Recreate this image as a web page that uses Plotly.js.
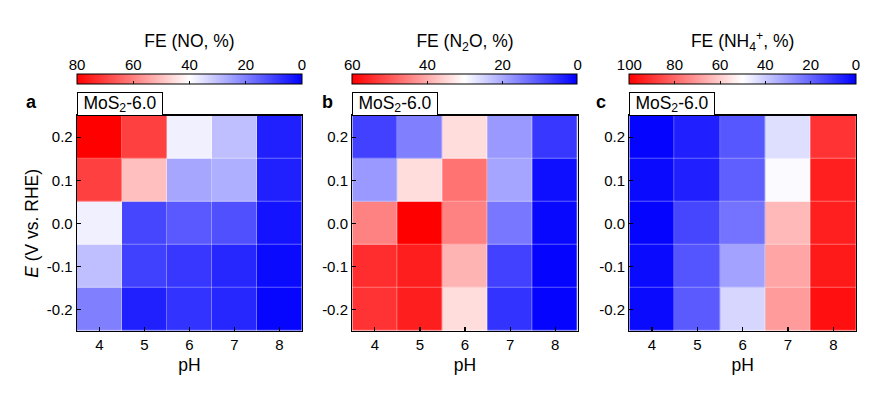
<!DOCTYPE html>
<html>
<head>
<meta charset="utf-8">
<script src="https://cdn.plot.ly/plotly-3.0.1.min.js"></script>
<style>html,body{margin:0;padding:0;background:#fff;}#chart{width:887px;height:397px;}</style>
</head>
<body>
<div id="chart"></div>
<script>
// ---- data ----
const pH = [4, 5, 6, 7, 8];
const potential = [0.2, 0.1, 0.0, -0.1, -0.2];
const potentialLabels = ['0.2', '0.1', '0.0', '-0.1', '-0.2'];

// rows follow `potential` (0.2 ... -0.2), columns follow `pH`
const feNO = [
  [80, 70, 37.6, 30, 5],
  [70, 50, 26, 27.5, 5],
  [37.6, 11, 14, 12.5, 3],
  [30, 10, 8.6, 6, 1.5],
  [20, 5, 8, 6, 1]
];
const feN2O = [
  [7.6, 15, 34, 18, 6.5],
  [18, 34, 46.5, 19.4, 1.8],
  [44.7, 60, 44.7, 14, 1],
  [54.7, 56.5, 38.8, 7.6, 0.6],
  [54, 56.5, 34, 6, 0.6]
];
const feNH4 = [
  [1, 6, 17, 43.5, 90],
  [2, 6, 18.6, 49, 94],
  [1, 13.7, 22.5, 63.7, 94],
  [2, 16.7, 32, 67.6, 95],
  [2, 17.6, 42, 69.6, 97]
];

const scaleMax = [80, 60, 100];
const scaleTicks = [[80, 60, 40, 20, 0], [60, 40, 20, 0], [100, 80, 60, 40, 20, 0]];
const cbTitles = ['FE (NO, %)', 'FE (N<sub>2</sub>O, %)', 'FE (NH<sub>4</sub><sup>+</sup>, %)'];
const panelLetters = ['a', 'b', 'c'];
const sampleLabel = 'MoS<sub>2</sub>-6.0';

// ---- layout geometry ----
const FONT = 'Liberation Sans, Arial, Helvetica, sans-serif';
const domains = [[0, 0.2888], [0.3534, 0.6428], [0.709, 1.0]];
const hmTop = 0.6923;
const cbDom = [0.7932, 0.8264];
const letterX = [-0.0590, 0.3218, 0.6727];

const bwr = [[0, 'rgb(255,0,0)'], [0.5, 'rgb(255,255,255)'], [1, 'rgb(0,0,255)']];
const datasets = [feNO, feN2O, feNH4];

const traces = [];
const layout = {
  width: 887, height: 397,
  margin: {l: 77, r: 31, t: 20, b: 66},
  paper_bgcolor: '#fff', plot_bgcolor: '#fff',
  font: {family: FONT, size: 15, color: '#000'},
  showlegend: false,
  annotations: []
};

datasets.forEach((data, i) => {
  const n = i === 0 ? '' : String(i + 1);
  const m = scaleMax[i];
  traces.push({
    type: 'heatmap',
    x: pH, y: potential,
    z: data.map(r => r.map(v => -v)),
    customdata: data,
    hovertemplate: 'pH %{x}<br>E %{y}<br>FE %{customdata}%<extra></extra>',
    zmin: -m, zmax: 0,
    colorscale: bwr,
    xgap: 0.35, ygap: 0.35,
    xaxis: 'x' + n, yaxis: 'y' + n,
    showscale: true,
    colorbar: {
      orientation: 'h',
      x: domains[i][0], xanchor: 'left', xref: 'paper',
      y: cbDom[1], yanchor: 'top', yref: 'paper',
      len: domains[i][1] - domains[i][0], lenmode: 'fraction',
      thickness: 10, thicknessmode: 'pixels',
      xpad: 0, ypad: 0,
      outlinewidth: 1, outlinecolor: '#000',
      tickmode: 'array',
      tickvals: scaleTicks[i].map(v => -v),
      ticktext: scaleTicks[i].map(String),
      ticks: 'inside', ticklen: 3, tickwidth: 1, tickcolor: '#000',
      showticklabels: false
    }
  });
  layout['xaxis' + n] = {
    domain: domains[i], anchor: 'y' + n,
    range: [3.5, 8.5], tickmode: 'array', tickvals: pH, ticktext: pH.map(String),
    ticks: 'inside', ticklen: 4, tickwidth: 1.2, tickcolor: '#000',
    showline: true, mirror: true, linecolor: '#000', linewidth: 1.3,
    showgrid: false, zeroline: false, fixedrange: true,
    tickfont: {size: 15},
    title: {text: 'pH', font: {size: 17.5}, standoff: 6}
  };
  const yax = {
    domain: [0, hmTop], anchor: 'x' + n,
    range: [-0.25, 0.25], tickmode: 'array', tickvals: potential, ticktext: potentialLabels,
    ticks: 'inside', ticklen: 4, tickwidth: 1.2, tickcolor: '#000',
    showline: true, mirror: true, linecolor: '#000', linewidth: 1.3,
    showgrid: false, zeroline: false, fixedrange: true,
    tickfont: {size: 15}
  };
  if (i === 0) yax.title = {text: '<i>E</i> (V vs. RHE)', font: {size: 17.5}, standoff: 3};
  layout['yaxis' + n] = yax;
  // axis carrying the colour-bar labels (above the bar)
  const k = String(i + 4);
  traces.push({type: 'scatter', x: [], y: [], xaxis: 'x' + k, yaxis: 'y' + k, hoverinfo: 'skip', showlegend: false});
  layout['xaxis' + k] = {
    domain: domains[i], anchor: 'y' + k, side: 'top',
    range: [m, 0], tickmode: 'array', tickvals: scaleTicks[i], ticktext: scaleTicks[i].map(String),
    ticks: '', showline: false, showgrid: false, zeroline: false, fixedrange: true,
    tickfont: {size: 15},
    title: {text: cbTitles[i], font: {size: 17.5}, standoff: 3}
  };
  layout['yaxis' + k] = {
    domain: cbDom, anchor: 'x' + k, range: [0, 1], visible: false, fixedrange: true
  };
  layout.annotations.push({
    xref: 'paper', yref: 'paper', x: domains[i][0], y: hmTop,
    xanchor: 'left', yanchor: 'bottom', showarrow: false,
    text: sampleLabel, font: {size: 17.5, family: FONT},
    bgcolor: '#fff', bordercolor: '#000', borderwidth: 1, borderpad: 1,
    width: 82, height: 20, align: 'center'
  });
  layout.annotations.push({
    xref: 'paper', yref: 'paper', x: letterX[i], y: 0.737,
    xanchor: 'center', yanchor: 'middle', showarrow: false,
    text: '<b>' + panelLetters[i] + '</b>', font: {size: 18, family: FONT}
  });
});

Plotly.newPlot('chart', traces, layout, {displayModeBar: false, staticPlot: true});
</script>
</body>
</html>
